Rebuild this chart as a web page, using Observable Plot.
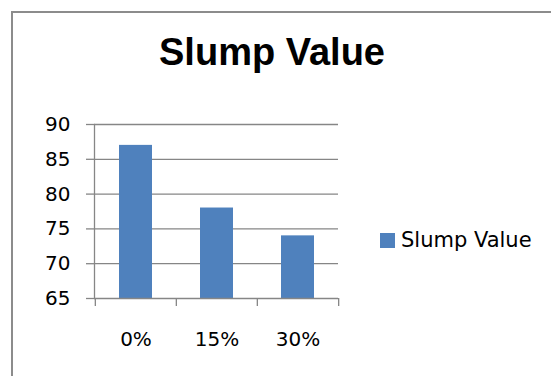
<!DOCTYPE html>
<html>
<head>
<meta charset="utf-8">
<script src="https://cdn.jsdelivr.net/npm/d3@7"></script>
<script src="https://cdn.jsdelivr.net/npm/@observablehq/plot@0.6"></script>
<style>
  html, body { margin: 0; padding: 0; background: #fff; }
  #wrap { position: relative; width: 551px; height: 376px; overflow: hidden; background: #fff; font-family: "DejaVu Sans", sans-serif; }
  #border { position: absolute; left: 11px; top: 11px; width: 700px; height: 500px; border: 2px solid #8c8c8c; box-sizing: border-box; }
  #chart { position: absolute; left: 0; top: 0; }
  #title { position: absolute; left: 0; width: 544px; top: 32px; text-align: center; font-family: "Liberation Sans", Arial, sans-serif; font-weight: bold; font-size: 38px; line-height: 40px; color: #000; }
  #legend { position: absolute; left: 380px; top: 228px; font-size: 21px; line-height: 24px; color: #000; display: flex; align-items: center; white-space: nowrap; }
  #legend .sw { width: 15px; height: 15px; background: #4F81BD; margin-right: 6px; }
</style>
</head>
<body>
<div id="wrap">
  <div id="border"></div>
  <div id="chart"></div>
  <div id="title">Slump Value</div>
  <div id="legend"><span class="sw"></span><span>Slump Value</span></div>
</div>
<script>
const categories = ["0%", "15%", "30%"];
const slumpValues = [87, 78, 74];
const yTicks = [65, 70, 75, 80, 85, 90];
const seriesName = "Slump Value";

const data = categories.map((c, i) => ({cat: c, value: slumpValues[i]}));

const W = 551, H = 376;
const mL = 94, mR = 213, mT = 124, mB = 78;
const step = (W - mL - mR) / categories.length;
const grid = "#868686";

const chart = Plot.plot({
  width: W,
  height: H,
  marginLeft: mL,
  marginRight: mR,
  marginTop: mT,
  marginBottom: mB,
  style: {fontFamily: "DejaVu Sans, sans-serif", fontSize: "20px", color: "#000", background: "transparent", overflow: "visible"},
  x: {domain: categories, paddingInner: 0.594, paddingOuter: 0.297, label: null},
  y: {domain: [65, 90], label: null},
  marks: [
    Plot.gridY(yTicks.filter(v => v > 65), {stroke: grid, strokeOpacity: 1, strokeWidth: 1.3}),
    Plot.barY(data, {x: "cat", y1: 65, y2: "value", fill: "#4F81BD"}),
    Plot.ruleY([65], {stroke: grid, strokeWidth: 1.3}),
    Plot.frame({anchor: "left", stroke: grid, strokeWidth: 1.3}),
    Plot.axisY({ticks: yTicks, tickSize: 8, tickPadding: 16, stroke: grid, strokeWidth: 1.3, label: null, fill: "#000"}),
    Plot.axisX({ticks: categories, tickSize: 8, tickFormat: () => "", dx: -step / 2, stroke: grid, strokeWidth: 1.3, label: null}),
    Plot.axisX({ticks: [categories[categories.length - 1]], tickSize: 8, tickFormat: () => "", dx: step / 2, stroke: grid, strokeWidth: 1.3, label: null}),
    Plot.axisX({ticks: categories, tickSize: 0, tickPadding: 33, label: null, fill: "#000"})
  ]
});
document.getElementById("chart").appendChild(chart);
document.querySelector("#legend span:last-child").textContent = seriesName;
</script>
</body>
</html>
